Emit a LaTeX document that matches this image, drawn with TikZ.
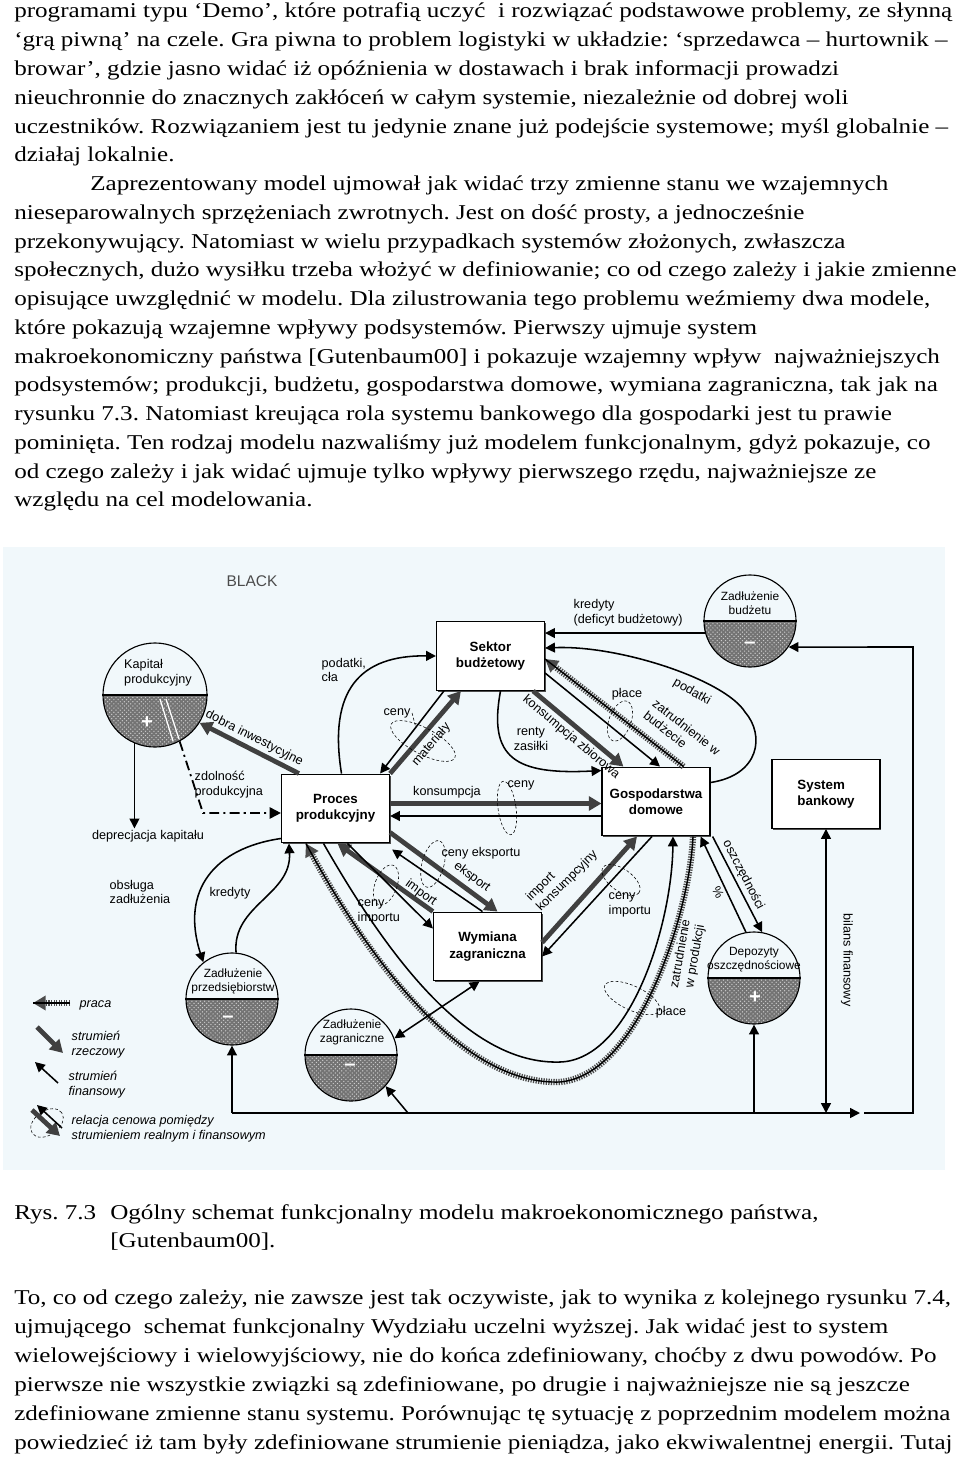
\documentclass[tikz,border=0pt]{standalone}
\usepackage{fontspec}
\setsansfont{Liberation Sans}
\newfontfamily\pagefont{Liberation Serif}[FakeStretch=1.19]
\usetikzlibrary{arrows.meta,calc,patterns,shadows}
\definecolor{scan}{RGB}{241,248,251}
\frenchspacing

\begin{document}
\begin{tikzpicture}[x=0.025cm, y=0.025cm,
        txt/.style={anchor=base west, inner sep=0pt, font=\pagefont\fontsize{15}{18}\selectfont},
        box/.style={draw, thick, fill=white, align=center, minimum width=2.7cm, minimum height=1.72cm, font=\sffamily\bfseries\fontsize{9.5}{11.5}\selectfont, drop shadow={shadow xshift=1pt, shadow yshift=-1pt, fill=black!70, opacity=1}},
        stock/.style={circle, draw, thick, inner sep=0pt, minimum size=2.3cm},
        stocktxt/.style={align=center, inner sep=0pt, font=\sffamily\fontsize{8.5}{10}\selectfont},
        half/.style={fill=black!55, postaction={pattern=crosshatch dots, pattern color=black!20}},
        sign/.style={text=white, inner sep=0pt, font=\sffamily\bfseries\Large},
        lbl/.style={inner sep=1pt, align=left, font=\sffamily\fontsize{9}{10.5}\selectfont},
        leg/.style={inner sep=1pt, anchor=west, font=\sffamily\itshape\fontsize{9}{10.5}\selectfont},
        real/.style={line width=3.4pt, draw=black!75, -{Triangle[length=9pt,width=10pt]}},
        money/.style={line width=1.1pt, -{Triangle[length=7pt,width=7pt]}},
        work/.style={line width=4.5pt, draw=black!70, dash pattern=on 0.9pt off 0.9pt, -{Triangle[length=9pt,width=10pt]}, postaction={draw=black, line width=1pt, solid, -}},
        capline/.style={line width=1.3pt, dash pattern=on 7pt off 3pt on 1.5pt off 3pt, -{Triangle[length=8pt,width=8pt]}},
        rel/.style={thin, dash pattern=on 2pt off 1.5pt}
    ]
    \useasboundingbox (0,0) rectangle (960,-1459);
    \fill[scan] (3,-547) rectangle (945,-1170);

    % text above the figure
    \node[txt] (t1) at (14,-18) {programami typu ‘Demo’, które potrafią uczyć~ i rozwiązać podstawowe problemy, ze słynną};
    \node[txt] (t2) at (14,-46.75) {‘grą piwną’ na czele. Gra piwna to problem logistyki w układzie: ‘sprzedawca – hurtownik –};
    \node[txt] (t3) at (14,-75.5) {browar’, gdzie jasno widać iż opóźnienia w dostawach i brak informacji prowadzi};
    \node[txt] (t4) at (14,-104.25) {nieuchronnie do znacznych zakłóceń w całym systemie, niezależnie od dobrej woli};
    \node[txt] (t5) at (14,-133) {uczestników. Rozwiązaniem jest tu jedynie znane już podejście systemowe; myśl globalnie –};
    \node[txt] (t6) at (14,-161.75) {działaj lokalnie.};
    \node[txt] (t7) at (90,-190.5) {Zaprezentowany model ujmował jak widać trzy zmienne stanu we wzajemnych};
    \node[txt] (t8) at (14,-219.25) {nieseparowalnych sprzężeniach zwrotnych. Jest on dość prosty, a jednocześnie};
    \node[txt] (t9) at (14,-248) {przekonywujący. Natomiast w wielu przypadkach systemów złożonych, zwłaszcza};
    \node[txt] (t10) at (14,-276.75) {społecznych, dużo wysiłku trzeba włożyć w definiowanie; co od czego zależy i jakie zmienne};
    \node[txt] (t11) at (14,-305.5) {opisujące uwzględnić w modelu. Dla zilustrowania tego problemu weźmiemy dwa modele,};
    \node[txt] (t12) at (14,-334.25) {które pokazują wzajemne wpływy podsystemów. Pierwszy ujmuje system};
    \node[txt] (t13) at (14,-363) {makroekonomiczny państwa [Gutenbaum00] i pokazuje wzajemny wpływ~ najważniejszych};
    \node[txt] (t14) at (14,-391.75) {podsystemów; produkcji, budżetu, gospodarstwa domowe, wymiana zagraniczna, tak jak na};
    \node[txt] (t15) at (14,-420.5) {rysunku 7.3. Natomiast kreująca rola systemu bankowego dla gospodarki jest tu prawie};
    \node[txt] (t16) at (14,-449.25) {pominięta. Ten rodzaj modelu nazwaliśmy już modelem funkcjonalnym, gdyż pokazuje, co};
    \node[txt] (t17) at (14,-478) {od czego zależy i jak widać ujmuje tylko wpływy pierwszego rzędu, najważniejsze ze};
    \node[txt] (t18) at (14,-506.75) {względu na cel modelowania.};

    \node[font=\sffamily\fontsize{11}{13}\selectfont, text=black!70] (blk) at (252,-581) {BLACK};

    % boxes
    \node[box] (sb) at (490.5,-656) {Sektor\\budżetowy};
    \node[box] (pp) at (335.5,-808.5) {Proces\\produkcyjny};
    \node[box] (gd) at (656,-801.5) {Gospodarstwa\\domowe};
    \node[box, align=left] (sys) at (826,-794) {System\\bankowy};
    \node[box] (wz) at (487.5,-946.5) {Wymiana\\zagraniczna};

    % stocks
    \fill[half] (155,-695) ++(-1.3cm,0) arc[start angle=180, end angle=360, radius=1.3cm] -- cycle;
    \draw[white, line width=0.9pt] (160,-699) -- (173,-741);
    \draw[white, line width=0.9pt] (166,-699) -- (179,-739);
    \node[stock, minimum size=2.6cm] (kap) at (155,-695) {};
    \draw[thick] (kap.west) -- (kap.east);
    \node[stocktxt, align=left, font=\sffamily\fontsize{9}{10.5}\selectfont] (kapT) at (158,-673) {Kapitał\\produkcyjny};
    \node[sign] (kapS) at (147,-723) {+};

    \fill[half] (750,-621) ++(-1.15cm,0) arc[start angle=180, end angle=360, radius=1.15cm] -- cycle;
    \node[stock] (zb) at (750,-621) {};
    \draw[thick] (zb.west) -- (zb.east);
    \node[stocktxt] (zbT) at (750,-603) {Zadłużenie\\budżetu};
    \node[sign] (zbS) at (750,-645) {--};

    \fill[half] (232,-999) ++(-1.15cm,0) arc[start angle=180, end angle=360, radius=1.15cm] -- cycle;
    \node[stock] (zpr) at (232,-999) {};
    \draw[thick] (zpr.west) -- (zpr.east);
    \node[stocktxt] (zprT) at (233,-981) {Zadłużenie\\przedsiębiorstw};
    \node[sign] (zprS) at (228,-1019) {--};

    \fill[half] (351,-1055) ++(-1.15cm,0) arc[start angle=180, end angle=360, radius=1.15cm] -- cycle;
    \node[stock] (zza) at (351,-1055) {};
    \draw[thick] (zza.west) -- (zza.east);
    \node[stocktxt] (zzaT) at (352,-1032) {Zadłużenie\\zagraniczne};
    \node[sign] (zzaS) at (350,-1067) {--};

    \fill[half] (754,-978) ++(-1.15cm,0) arc[start angle=180, end angle=360, radius=1.15cm] -- cycle;
    \node[stock] (dep) at (754,-978) {};
    \draw[thick] (dep.west) -- (dep.east);
    \node[stocktxt] (depT) at (754,-960) {Depozyty\\oszczędnościowe};
    \node[sign] (depS) at (755,-998) {+};

    % capital
    \node[lbl] (depr) at (148,-836) {deprecjacja kapitału};
    \draw[money] (kap.-113) -- (kap.-113 |- depr.north);
    \draw[real] ($(pp.north west)+(18,0)$) -- node[lbl, sloped, above=1pt] (dobra) {dobra inwestycyjne} (kap.-32);
    \coordinate (zdk) at (203,-813);
    \draw[capline] (kap.-62) -- (zdk) -- (zdk -| pp.west);
    \node[lbl, anchor=west] (zdol) at (193,-785) {zdolność\\produkcyjna};

    % budget sector
    \draw[money] ($(pp.north)+(6,0)$) .. controls (328,-690) and (360,-655) .. (sb.west);
    \node[lbl, anchor=west] (pcla) at (320,-670) {podatki,\\cła};
    \draw[money] ($(sb.south west)+(8,0)$) -- ($(pp.north east)+(-10,0)$);
    \draw[real] (pp.north east) -- node[lbl, sloped, below=2pt, pos=0.45] (mat) {materiały} ($(sb.south west)+(25,0)$);
    \draw[rel] (423,-741) ellipse [x radius=36, y radius=13, rotate=-28];
    \node[lbl] (cenyA) at (397,-713) {ceny};
    \draw[rel] (cenyA.east) -- (416,-728);
    \draw[money] (zb.195) -- (zb.195 -| sb.east);
    \node[lbl, anchor=west] (kred) at (572,-613) {kredyty\\(deficyt budżetowy)};
    \draw[money] ($(gd.east)+(0,19)$) .. controls (760,-775) and (765,-735) .. (745,-712) .. controls (725,-680) and (620,-645) .. ($(sb.east)+(0,8)$);
    \node[lbl, rotate=-30] (pod) at (692,-692) {podatki};
    \draw[money] ($(sb.south)+(10,0)$) .. controls (488,-758) and (515,-775) .. ($(gd.north west)+(0,-4)$);
    \node[lbl, align=center] (renty) at (531,-739) {renty\\zasiłki};
    \draw[real] ($(sb.south east)+(-12,0)$) -- node[lbl, sloped, below=1pt] (kzb) {konsumpcja zbiorowa} ($(gd.north west)+(22,0)$);
    \draw[money] ($(sb.east)+(0,-17)$) -- ($(gd.north)+(4,0)$);
    \draw[work] ($(gd.north east)+(-27,0)$) -- ($(sb.east)+(0,-3)$);
    \draw[rel] (620,-721) ellipse [x radius=21, y radius=11, rotate=70];
    \node[lbl] (placeA) at (627,-694) {płace};
    \node[lbl, rotate=-38] (zwb) at (682,-733) {zatrudnienie w\\budżecie};

    % households
    \draw[real] ($(pp.east)+(0,5)$) -- ($(gd.west)+(0,-2)$);
    \draw[money] ($(gd.west)+(0,-14.5)$) -- ($(pp.east)+(0,-7.5)$);
    \node[lbl] (kons) at (447,-792) {konsumpcja};
    \node[lbl] (cenyK) at (521,-785) {ceny};
    \draw[rel] (507,-808) ellipse [x radius=9, y radius=27, rotate=8];

    % foreign trade
    \draw[real] ($(pp.south east)+(0,11)$) -- ($(wz.north)+(10,0)$);
    \draw[money] ($(wz.north)+(-5,0)$) -- ($(pp.south east)+(2,-6)$);
    \node[lbl, rotate=-37] (eksp) at (472,-877) {eksport};
    \node[lbl] (cenyE) at (481,-853) {ceny eksportu};
    \draw[rel] (433,-864) ellipse [x radius=11, y radius=24, rotate=-15];
    \draw[real] (wz.north west) -- ($(pp.south)+(2,0)$);
    \draw[money] ($(pp.south)+(12,0)$) -- ($(wz.west)+(0,18)$);
    \node[lbl, rotate=-36] (imp) at (421,-893) {import};
    \node[lbl, anchor=west] (cenyI) at (356,-912) {ceny\\importu};
    \draw[rel] (386,-885) ellipse [x radius=11, y radius=21, rotate=-20];
    \draw[real] ($(wz.east)+(0,4)$) -- ($(gd.south)+(-19,0)$);
    \draw[money] ($(gd.south)+(-4,0)$) -- ($(wz.east)+(0,-10)$);
    \node[lbl, rotate=45] (impk) at (562,-876) {import\\konsumpcyjny};
    \node[lbl, anchor=west] (cenyK2) at (607,-905) {ceny\\importu};
    \draw[rel] (621,-880) ellipse [x radius=22, y radius=11, rotate=-35];

    % labour and wages in production
    \draw[work] ($(gd.south)+(37,0)$) .. controls (690,-910) and (640,-1075) .. (560,-1082) .. controls (470,-1085) and (380,-980) .. ($(pp.south west)+(25,0)$);
    \draw[money] ($(pp.south)+(-12,0)$) .. controls (390,-960) and (470,-1065) .. (560,-1062) .. controls (630,-1060) and (672,-925) .. ($(gd.south)+(17,0)$);
    \node[lbl, rotate=80, align=center] (zwp) at (688,-955) {zatrudnienie\\w produkcji};
    \node[lbl] (placeB) at (671,-1012) {płace};
    \draw[rel] (632,-998) ellipse [x radius=30, y radius=12, rotate=-25];

    % savings
    \draw[money] ($(gd.south east)+(2,0)$) -- node[lbl, sloped, above=1pt, pos=0.45] (oszcz) {oszczędności} (dep.80);
    \draw[money] (dep.100) -- ($(gd.south east)+(-10,0)$);
    \node[lbl, rotate=-62] (proc) at (718,-892) {\%};

    % enterprise debt
    \draw[money] (zpr.85) .. controls (232,-905) and (292,-895) .. ($(pp.south west)+(8,0)$);
    \node[lbl] (kredB) at (230,-893) {kredyty};
    \draw[money] ($(pp.west)+(0,-30)$) .. controls (215,-848) and (180,-890) .. (zpr.128);
    \node[lbl, anchor=west] (obs) at (108,-892) {obsługa\\zadłużenia};

    % financial balance
    \coordinate (busL) at (232,-1113);
    \coordinate (busZ) at (408,-1113);
    \coordinate (busR) at (860,-1113);
    \draw[money] (busL) -- (busR);
    \draw[money] (busL) -- (zpr.south);
    \draw[money] (busZ) -- (zza.-42);
    \draw[money] (dep.south |- busL) -- (dep.south);
    \draw[money, {Triangle[length=7pt,width=7pt]}-{Triangle[length=7pt,width=7pt]}] (sys.south) -- (sys.south |- busL);
    \node[lbl, rotate=-90] (bil) at (847,-960) {bilans finansowy};
    \draw[money] ($(busR)+(4,0)$) -| (913,-647) -- (zb.-34);
    \draw[money, {Triangle[length=7pt,width=7pt]}-{Triangle[length=7pt,width=7pt]}] (zza.21) -- ($(wz.south)+(-8,0)$);

    % legend
    \draw[work] (70,-1003) -- (33,-1003);
    \node[leg] (lg1) at (78,-1005) {praca};
    \draw[real] (37,-1027) -- (63,-1053);
    \node[leg, align=left] (lg2) at (70,-1045) {strumień\\rzeczowy};
    \draw[money] (58,-1083) -- (35,-1062);
    \node[leg, align=left] (lg3) at (67,-1085) {strumień\\finansowy};
    \draw[rel] (47,-1123) ellipse [x radius=18, y radius=12, rotate=35];
    \draw[real] (32,-1110) -- (60,-1136);
    \draw[money] (62,-1128) -- (37,-1105);
    \node[leg, align=left] (lg4) at (70,-1129) {relacja cenowa pomiędzy\\strumieniem realnym i finansowym};

    % caption and text below
    \node[txt] (c1) at (14,-1219) {Rys. 7.3};
    \node[txt] (c2) at (110,-1219) {Ogólny schemat funkcjonalny modelu makroekonomicznego państwa,};
    \node[txt] (c3) at (110,-1247) {[Gutenbaum00].};
    \node[txt] (b1) at (14,-1304) {To, co od czego zależy, nie zawsze jest tak oczywiste, jak to wynika z kolejnego rysunku 7.4,};
    \node[txt] (b2) at (14,-1333) {ujmującego~ schemat funkcjonalny Wydziału uczelni wyższej. Jak widać jest to system};
    \node[txt] (b3) at (14,-1362) {wielowejściowy i wielowyjściowy, nie do końca zdefiniowany, choćby z dwu powodów. Po};
    \node[txt] (b4) at (14,-1391) {pierwsze nie wszystkie związki są zdefiniowane, po drugie i najważniejsze nie są jeszcze};
    \node[txt] (b5) at (14,-1420) {zdefiniowane zmienne stanu systemu. Porównując tę sytuację z poprzednim modelem można};
    \node[txt] (b6) at (14,-1449) {powiedzieć iż tam były zdefiniowane strumienie pieniądza, jako ekwiwalentnej energii. Tutaj};
\end{tikzpicture}
\end{document}
